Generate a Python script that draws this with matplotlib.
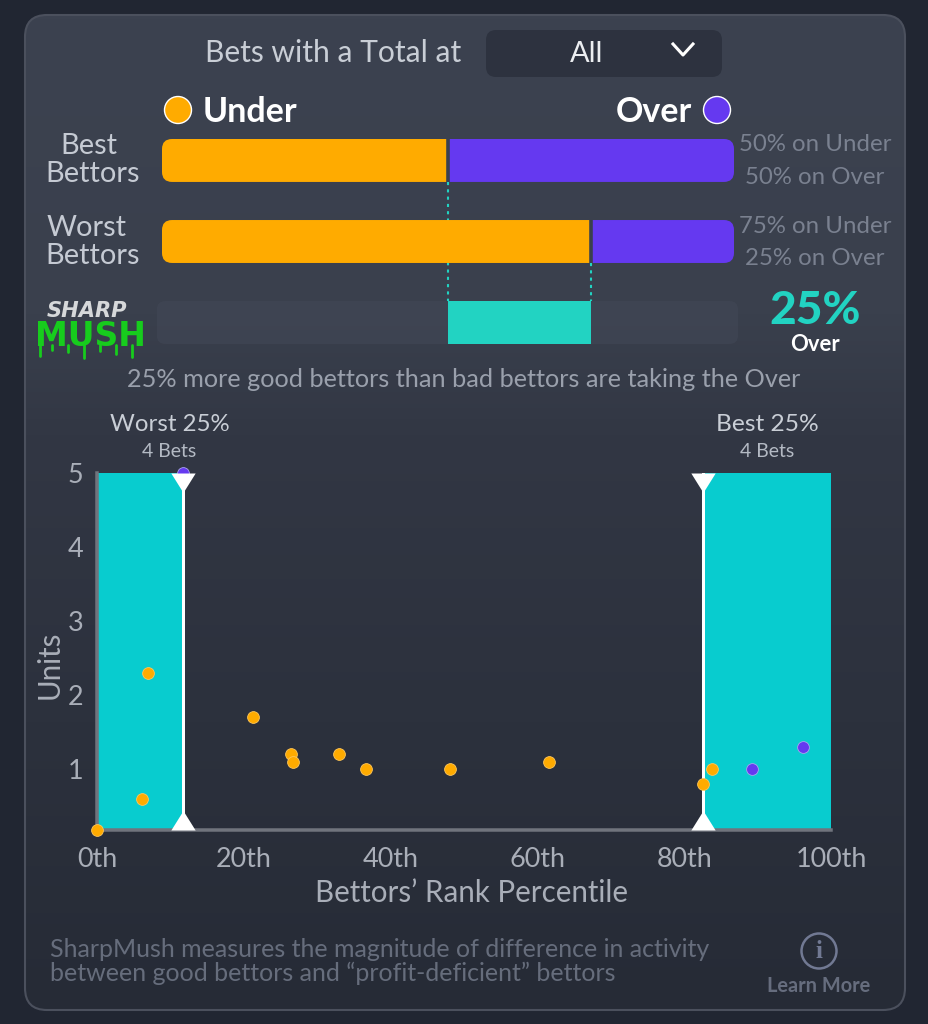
import matplotlib
matplotlib.use("Agg")
import numpy as np
import matplotlib.pyplot as plt
from matplotlib.patches import FancyBboxPatch, Circle
from matplotlib.path import Path as MPath

# ---------- data ----------
groups = ["Best\nBettors", "Worst\nBettors"]
under_pct = [50, 75]
over_pct = [50, 25]
mush_start = 50
mush_end = 75
mush_label = "25%"

under_rank = [0, 6.1, 7.0, 21.3, 26.4, 26.7, 33.0, 36.6, 48.1, 61.6, 82.6, 83.8]
under_units = [0.18, 0.6, 2.3, 1.7, 1.2, 1.1, 1.2, 1.0, 1.0, 1.1, 0.8, 1.0]
over_rank = [11.7, 89.2, 96.2]
over_units = [5.0, 1.0, 1.3]
worst_cut = 11.7
best_cut = 82.6
x_ticks = [0, 20, 40, 60, 80, 100]
x_tick_labels = ["0th", "20th", "40th", "60th", "80th", "100th"]
y_ticks = [1, 2, 3, 4, 5]
# ---------- style ----------
W, H = 929, 1024
ORANGE, PURPLE, TEAL, CYAN = "#FFAB00", "#6539F0", "#22D3C2", "#08CCCF"
GREEN = "#17cc1d"
plt.rcParams["font.family"] = ["Lato", "DejaVu Sans"]
px = 0.72  # font points per pixel at dpi 100


def axes_px(fig, left, top, right, bottom, **kw):
    return fig.add_axes([left / W, 1 - bottom / H, (right - left) / W, (bottom - top) / H], **kw)


fig = plt.figure(figsize=(W / 100, H / 100), dpi=100, facecolor="#212632")

# ---------- card and decoration layer (pixel coordinates) ----------
bg = fig.add_axes([0, 0, 1, 1])
bg.set_xlim(0, W)
bg.set_ylim(H, 0)
bg.axis("off")
bg.add_patch(FancyBboxPatch((25, 15), 880, 995, boxstyle="round,pad=0,rounding_size=22",
                            fc="none", ec="#4b505d", lw=1.5, zorder=3))
cmap = matplotlib.colors.LinearSegmentedColormap.from_list(
    "card", [(0, "#3c4250"), (0.3, "#3a404d"), (0.42, "#323744"), (1, "#262b36")])
im = bg.imshow(np.linspace(0, 1, 256).reshape(-1, 1), cmap=cmap, extent=(25, 905, 1010, 15),
               aspect="auto", zorder=1)
im.set_clip_path(FancyBboxPatch((25, 15), 880, 995, boxstyle="round,pad=0,rounding_size=22",
                                transform=bg.transData))
bg.set_xlim(0, W)
bg.set_ylim(H, 0)


def T(x, y, s, size, color, ha="center", weight="normal", ax=bg, **kw):
    return ax.text(x, y + 1.5, s, fontsize=size * px, color=color, ha=ha, va="center",
                   fontweight=weight, zorder=6, **kw)


T(333, 52, "Bets with a Total at", 30, "#c9ced6")
bg.add_patch(FancyBboxPatch((486, 30), 236, 47, boxstyle="round,pad=0,rounding_size=10",
                            fc="#2d323f", ec="none", zorder=3))
T(587, 52, "All", 29, "#eceef1")
bg.plot([673, 683, 693], [44, 55, 44], color="white", lw=2.2, zorder=6)

bg.add_patch(Circle((178, 110), 13.5, fc=ORANGE, ec="white", lw=1, zorder=5))
T(203, 111, "Under", 34, "white", ha="left", weight="bold")
T(692, 111, "Over", 34, "white", ha="right", weight="bold")
bg.add_patch(Circle((717, 110), 13.5, fc=PURPLE, ec="white", lw=1, zorder=5))

for label, y1, y2, x1 in zip(groups, [145, 226], [173, 254], [89, 87]):
    a, b = label.split("\n")
    T(x1, y1, a, 29, "#c5cad3")
    T(93, y2, b, 29, "#c5cad3")

for u, o, y1, y2 in zip(under_pct, over_pct, [143, 225], [176, 257]):
    T(815, y1, f"{u}% on Under", 24, "#7a8190")
    T(815, y2, f"{o}% on Over", 24, "#7a8190")

T(815, 309, mush_label, 46, TEAL, weight="black")
T(815, 343, "Over", 22, "white", weight="bold")
T(464, 378, "25% more good bettors than bad bettors are taking the Over", 25.3, "#9aa0ac")

# SharpMush logo
bg.text(87, 311, "SHARP", fontsize=21 * px, color="#d6d8da", ha="center", va="center",
        family="DejaVu Sans", fontweight="bold", style="oblique", zorder=6)
bg.text(90, 337, "MUSH", fontsize=33 * px, color=GREEN, ha="center", va="center",
        family="DejaVu Sans", fontweight="bold", zorder=6)
for dx, y1 in zip([40, 52, 68, 84, 100, 116, 132], [356, 350, 352, 358, 351, 354, 357]):
    bg.plot([dx, dx], [345, y1], color=GREEN, lw=2.0, solid_capstyle="round", zorder=6)

T(170, 423, "Worst 25%", 24, "#c9ced6")
T(169, 450, "4 Bets", 19.5, "#b4bac4")
T(767, 423, "Best 25%", 24.5, "#c9ced6")
T(767, 450, "4 Bets", 19.5, "#b4bac4")

T(50, 948, "SharpMush measures the magnitude of difference in activity", 25, "#666d7c", ha="left")
T(50, 972, "between good bettors and “profit-deficient” bettors", 25, "#666d7c", ha="left")
bg.add_patch(Circle((819, 951), 17.5, fc="none", ec="#717993", lw=1.8, zorder=5))
T(819, 950, "i", 25, "#717993", weight="bold", family=["Liberation Serif"])
T(819, 984, "Learn More", 20, "#666d7e", weight="bold")

# ---------- stacked bars ----------
axb = axes_px(fig, 162, 139, 734, 344, facecolor="none")
axb.set_xlim(0, 100)
axb.set_ylim(-0.265, 2.265)
axb.axis("off")
bar_y = [2, 1]
bh = 0.53
aspect = 5.72 / 81


def rounded(x0, width, y, radius):
    p = FancyBboxPatch((x0, y - bh / 2), width, bh,
                       boxstyle=f"round,pad=0,rounding_size={radius}",
                       mutation_aspect=aspect, transform=axb.transData, fc="none", ec="none",
                       clip_on=False)
    axb.add_patch(p)
    return p


track_clip = rounded(-0.9, 101.6, 0, 1.5)
track = axb.barh(0, 101.6, left=-0.9, height=bh, color="#434958", alpha=0.5, zorder=1)
for r in track:
    r.set_clip_path(track_clip)
    r.set_clip_box(None)
for y, u, o in zip(bar_y, under_pct, over_pct):
    clip = rounded(0, 100, y, 1.75)
    b1 = axb.barh(y, u, left=0, height=bh, color=ORANGE, zorder=2)
    b2 = axb.barh(y, o, left=u, height=bh, color=PURPLE, zorder=2)
    for r in list(b1) + list(b2):
        r.set_clip_path(clip)
    axb.plot([u, u], [y - bh / 2, y + bh / 2], color="#3a404d", lw=3.6 * px, zorder=3,
             solid_capstyle="butt")
axb.barh(0, mush_end - mush_start, left=mush_start, height=bh, color=TEAL, zorder=2)
axb.plot([under_pct[0]] * 2, [2 - bh / 2, bh / 2], color=TEAL, lw=1.5, ls=(0, (1.5, 2)), zorder=1)
axb.plot([under_pct[1]] * 2, [1 - bh / 2, bh / 2], color=TEAL, lw=1.5, ls=(0, (1.5, 2)), zorder=1)

# ---------- scatter ----------
ax = axes_px(fig, 97, 473, 831, 830, facecolor="none")
ax.set_xlim(0, 100)
ax.set_ylim(0.18, 5)
for s in ["top", "right"]:
    ax.spines[s].set_visible(False)
for s in ["left", "bottom"]:
    ax.spines[s].set_color("#70747d")
    ax.spines[s].set_linewidth(3.5 * px)
ax.axvspan(0, worst_cut, color=CYAN, lw=0, zorder=1)
ax.axvspan(best_cut, 100, color=CYAN, lw=0, zorder=1)
ax.axvline(worst_cut, color="white", lw=3 * px, zorder=2)
ax.axvline(best_cut, color="white", lw=3 * px, zorder=2)
ax.scatter(over_rank, over_units, s=72, c=PURPLE, edgecolors="#a9a4ee", linewidths=0.6,
           clip_on=False, zorder=3)
ax.scatter(under_rank, under_units, s=72, c=ORANGE, edgecolors="#ffc65a", linewidths=0.6,
           clip_on=False, zorder=3)
tri_down = MPath([(-1, 0), (1, 0), (0, -1.6), (-1, 0)], closed=True)
tri_up = MPath([(-1, 0), (1, 0), (0, 1.6), (-1, 0)], closed=True)
for cut in (worst_cut, best_cut):
    ax.plot([cut], [5], marker=tri_down, ms=28, color="white", mew=0, clip_on=False, zorder=4)
    ax.plot([cut], [0.18], marker=tri_up, ms=28, color="white", mew=0, clip_on=False, zorder=4)
ax.set_xticks(x_ticks, x_tick_labels)
ax.set_yticks(y_ticks)
ax.tick_params(length=0, labelsize=27 * px, labelcolor="#a9aeb8")
ax.tick_params(axis="x", pad=12)
ax.tick_params(axis="y", pad=10)
ax.set_xlabel("Bettors’ Rank Percentile", fontsize=29.5 * px, color="#a9aeb8", labelpad=5)
ax.xaxis.label.set_x((471.5 - 97) / 734)
ax.set_ylabel("Units", fontsize=29.5 * px, color="#a9aeb8")
ax.yaxis.set_label_coords(-33 / 734, 0.463)

fig.savefig("out.png", dpi=100, facecolor=fig.get_facecolor())
